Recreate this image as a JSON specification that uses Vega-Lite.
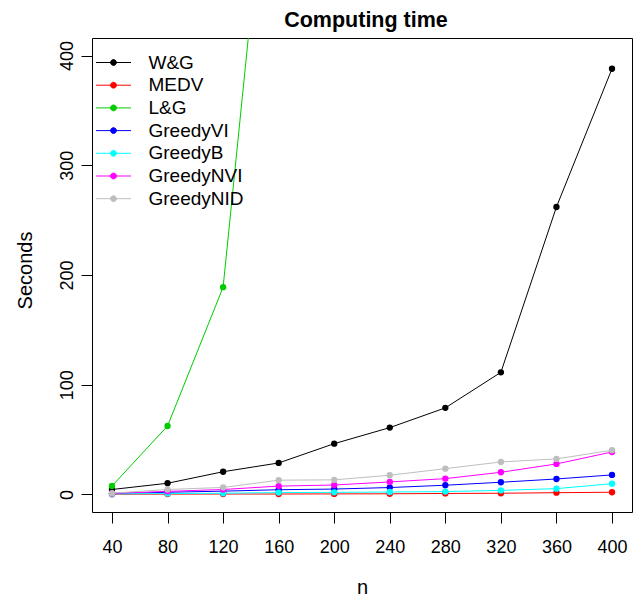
{
  "$schema": "https://vega.github.io/schema/vega-lite/v6.json",
  "autosize": "none",
  "width": 540,
  "height": 474,
  "padding": {"left": 92, "top": 38, "right": 6, "bottom": 85},
  "background": "white",
  "title": {"text": "Computing time", "font": "Liberation Sans", "fontSize": 21.5, "fontWeight": "bold", "color": "black", "anchor": "middle", "baseline": "alphabetic", "offset": 12, "dy": 22, "dx": 4},
  "config": {
    "view": {"stroke": "black", "strokeWidth": 1},
    "axis": {"labelFont": "Liberation Sans", "labelFontSize": 18, "labelColor": "black", "tickColor": "black", "tickSize": 11, "domain": false, "grid": false, "titleFont": "Liberation Sans", "titleFontSize": 20, "titleFontWeight": "normal", "titleColor": "black"},
    "legend": {"labelFont": "Liberation Sans", "labelFontSize": 19, "labelColor": "black"}
  },
  "data": {"values": [
    {"n": 40, "method": "W&G", "t": 4.5}, {"n": 80, "method": "W&G", "t": 10.2}, {"n": 120, "method": "W&G", "t": 20.7}, {"n": 160, "method": "W&G", "t": 28.7}, {"n": 200, "method": "W&G", "t": 46.3}, {"n": 240, "method": "W&G", "t": 60.9}, {"n": 280, "method": "W&G", "t": 78.9}, {"n": 320, "method": "W&G", "t": 111.3}, {"n": 360, "method": "W&G", "t": 262}, {"n": 400, "method": "W&G", "t": 388},
    {"n": 40, "method": "MEDV", "t": 0.2}, {"n": 80, "method": "MEDV", "t": 0.3}, {"n": 120, "method": "MEDV", "t": 0.4}, {"n": 160, "method": "MEDV", "t": 0.4}, {"n": 200, "method": "MEDV", "t": 0.5}, {"n": 240, "method": "MEDV", "t": 0.6}, {"n": 280, "method": "MEDV", "t": 0.9}, {"n": 320, "method": "MEDV", "t": 1.1}, {"n": 360, "method": "MEDV", "t": 1.6}, {"n": 400, "method": "MEDV", "t": 2.0},
    {"n": 40, "method": "L&G", "t": 7.7}, {"n": 80, "method": "L&G", "t": 62.4}, {"n": 120, "method": "L&G", "t": 188.9}, {"n": 160, "method": "L&G", "t": 690},
    {"n": 40, "method": "GreedyVI", "t": 0.8}, {"n": 80, "method": "GreedyVI", "t": 2.0}, {"n": 120, "method": "GreedyVI", "t": 3.0}, {"n": 160, "method": "GreedyVI", "t": 4.3}, {"n": 200, "method": "GreedyVI", "t": 4.9}, {"n": 240, "method": "GreedyVI", "t": 6.3}, {"n": 280, "method": "GreedyVI", "t": 8.4}, {"n": 320, "method": "GreedyVI", "t": 11.1}, {"n": 360, "method": "GreedyVI", "t": 14.1}, {"n": 400, "method": "GreedyVI", "t": 17.8},
    {"n": 40, "method": "GreedyB", "t": 0.5}, {"n": 80, "method": "GreedyB", "t": 0.8}, {"n": 120, "method": "GreedyB", "t": 1.1}, {"n": 160, "method": "GreedyB", "t": 1.7}, {"n": 200, "method": "GreedyB", "t": 1.9}, {"n": 240, "method": "GreedyB", "t": 2.2}, {"n": 280, "method": "GreedyB", "t": 2.6}, {"n": 320, "method": "GreedyB", "t": 3.7}, {"n": 360, "method": "GreedyB", "t": 5.3}, {"n": 400, "method": "GreedyB", "t": 9.8},
    {"n": 40, "method": "GreedyNVI", "t": 1.0}, {"n": 80, "method": "GreedyNVI", "t": 2.8}, {"n": 120, "method": "GreedyNVI", "t": 4.5}, {"n": 160, "method": "GreedyNVI", "t": 7.6}, {"n": 200, "method": "GreedyNVI", "t": 8.6}, {"n": 240, "method": "GreedyNVI", "t": 11.4}, {"n": 280, "method": "GreedyNVI", "t": 14.4}, {"n": 320, "method": "GreedyNVI", "t": 20.2}, {"n": 360, "method": "GreedyNVI", "t": 27.8}, {"n": 400, "method": "GreedyNVI", "t": 38.7},
    {"n": 40, "method": "GreedyNID", "t": 1.2}, {"n": 80, "method": "GreedyNID", "t": 4.5}, {"n": 120, "method": "GreedyNID", "t": 6.4}, {"n": 160, "method": "GreedyNID", "t": 13.0}, {"n": 200, "method": "GreedyNID", "t": 13.3}, {"n": 240, "method": "GreedyNID", "t": 17.5}, {"n": 280, "method": "GreedyNID", "t": 23.5}, {"n": 320, "method": "GreedyNID", "t": 29.6}, {"n": 360, "method": "GreedyNID", "t": 32.4}, {"n": 400, "method": "GreedyNID", "t": 40.3}
  ]},
  "encoding": {
    "x": {"field": "n", "type": "quantitative", "scale": {"domain": [25.6, 414.4], "nice": false, "zero": false},
      "axis": {"values": [40, 80, 120, 160, 200, 240, 280, 320, 360, 400], "title": "n", "labelPadding": 15, "titleBaseline": "alphabetic", "titleY": 81, "titleX": 270, "titleAnchor": null}},
    "y": {"field": "t", "type": "quantitative", "scale": {"domain": [-16, 416], "nice": false, "zero": false},
      "axis": {"values": [0, 100, 200, 300, 400], "title": "Seconds", "labelAngle": -90, "labelAlign": "center", "labelBaseline": "alphabetic", "labelPadding": 9, "titleAngle": -90, "titleBaseline": "alphabetic", "titleAlign": "center", "titleX": -61, "titleY": 232}},
    "color": {"field": "method", "type": "nominal",
      "scale": {"domain": ["W&G", "MEDV", "L&G", "GreedyVI", "GreedyB", "GreedyNVI", "GreedyNID"], "range": ["#000000", "#FF0000", "#00CD00", "#0000FF", "#00FFFF", "#FF00FF", "#BEBEBE"]},
      "legend": {"title": null, "orient": "none", "legendX": 7, "legendY": 15, "padding": 0, "rowPadding": 2.7,
        "symbolType": "M-3,0L3,0M-0.5,0A0.5,0.5,0,1,0,0.5,0A0.5,0.5,0,1,0,-0.5,0Z", "symbolSize": 136, "symbolStrokeWidth": 1, "symbolOffset": 5, "labelOffset": 25.5,
        "encode": {"symbols": {"update": {"fill": {"scale": "color", "field": "value"}, "stroke": {"scale": "color", "field": "value"}, "opacity": {"value": 1}}}}}}
  },
  "layer": [
    {"mark": {"type": "line", "strokeWidth": 1, "clip": true}},
    {"mark": {"type": "point", "filled": true, "size": 40, "opacity": 1, "clip": true}}
  ]
}
